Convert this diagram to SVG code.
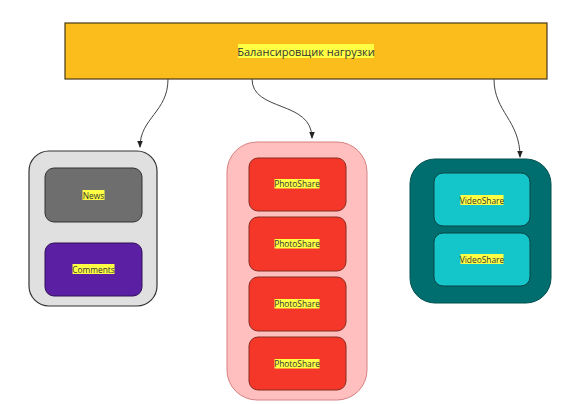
<svg xmlns="http://www.w3.org/2000/svg" width="580" height="404" viewBox="0 0 580 404">
<defs>
<style>
text{font-family:"Open Sans","Noto Sans","DejaVu Sans",sans-serif;fill:#333;text-anchor:middle;dominant-baseline:central}
.s{font-size:8.4px}
.hl{fill:#ffff44}
.edge{fill:none;stroke:#444;stroke-width:1}
</style>
<marker id="arr" viewBox="0 0 8 8" refX="7" refY="4" markerWidth="7" markerHeight="7" markerUnits="userSpaceOnUse" orient="auto">
<path d="M0,0.8 L8,4 L0,7.2 z" fill="#222"/>
</marker>
</defs>
<rect width="580" height="404" fill="#fff"/>
<g id="lb">
<rect x="65" y="23" width="482" height="56" fill="#fbbd1b" stroke="#4a3a1a" stroke-width="1.2"/>
<rect class="hl" x="238" y="44" width="136" height="14"/>
<text x="306" y="51" font-size="11">Балансировщик нагрузки</text>
</g>
<g id="connectors">
<path class="edge" d="M168,79 C168,112 140,118 140,147" marker-end="url(#arr)"/>
<path class="edge" d="M252,79 C252,112 312,100 312,138" marker-end="url(#arr)"/>
<path class="edge" d="M494,79 C494,112 520,120 520,157" marker-end="url(#arr)"/>
</g>
<g id="group-news">
<rect x="29" y="151" width="128" height="155" rx="20" fill="#e0e0e0" stroke="#333" stroke-width="1.2"/>
</g>
<g id="news">
<rect x="45" y="168" width="97" height="54" rx="9" fill="#6e6e6e" stroke="#333"/>
<rect class="hl" x="82.5" y="190" width="22" height="10"/>
<text class="s" x="93.5" y="195">News</text>
</g>
<g id="comments">
<rect x="45" y="243" width="97" height="53" rx="9" fill="#5a1fa3" stroke="#2e1055"/>
<rect class="hl" x="72.5" y="264" width="42" height="10"/>
<text class="s" x="93.5" y="269">Comments</text>
</g>
<g id="group-photo">
<rect x="227" y="142" width="140" height="258" rx="30" fill="#ffbfbf" stroke="#d88080" stroke-width="1"/>
</g>
<g id="photo1">
<rect x="249" y="158" width="97" height="53" rx="9" fill="#f5372a" stroke="#8a2a20"/>
<rect class="hl" x="274.5" y="179" width="45" height="9.5"/>
<text class="s" x="297" y="183.5">PhotoShare</text>
</g>
<g id="photo2">
<rect x="249" y="217" width="97" height="54" rx="9" fill="#f5372a" stroke="#8a2a20"/>
<rect class="hl" x="274.5" y="239" width="45" height="9.5"/>
<text class="s" x="297" y="243.5">PhotoShare</text>
</g>
<g id="photo3">
<rect x="249" y="277" width="97" height="54" rx="9" fill="#f5372a" stroke="#8a2a20"/>
<rect class="hl" x="274.5" y="299" width="45" height="9.5"/>
<text class="s" x="297" y="303.5">PhotoShare</text>
</g>
<g id="photo4">
<rect x="249" y="337" width="97" height="53" rx="9" fill="#f5372a" stroke="#8a2a20"/>
<rect class="hl" x="274.5" y="359" width="45" height="9.5"/>
<text class="s" x="297" y="363.5">PhotoShare</text>
</g>
<g id="group-video">
<rect x="410" y="159" width="141" height="144" rx="25" fill="#006e6e" stroke="#005050" stroke-width="1"/>
</g>
<g id="video1">
<rect x="434" y="173" width="96" height="53" rx="9" fill="#14c6c9" stroke="#0a4444"/>
<rect class="hl" x="460.5" y="195" width="43" height="10"/>
<text class="s" x="482" y="200">VideoShare</text>
</g>
<g id="video2">
<rect x="434" y="233" width="96" height="53" rx="9" fill="#14c6c9" stroke="#0a4444"/>
<rect class="hl" x="460.5" y="254" width="43" height="10"/>
<text class="s" x="482" y="259">VideoShare</text>
</g>
</svg>
